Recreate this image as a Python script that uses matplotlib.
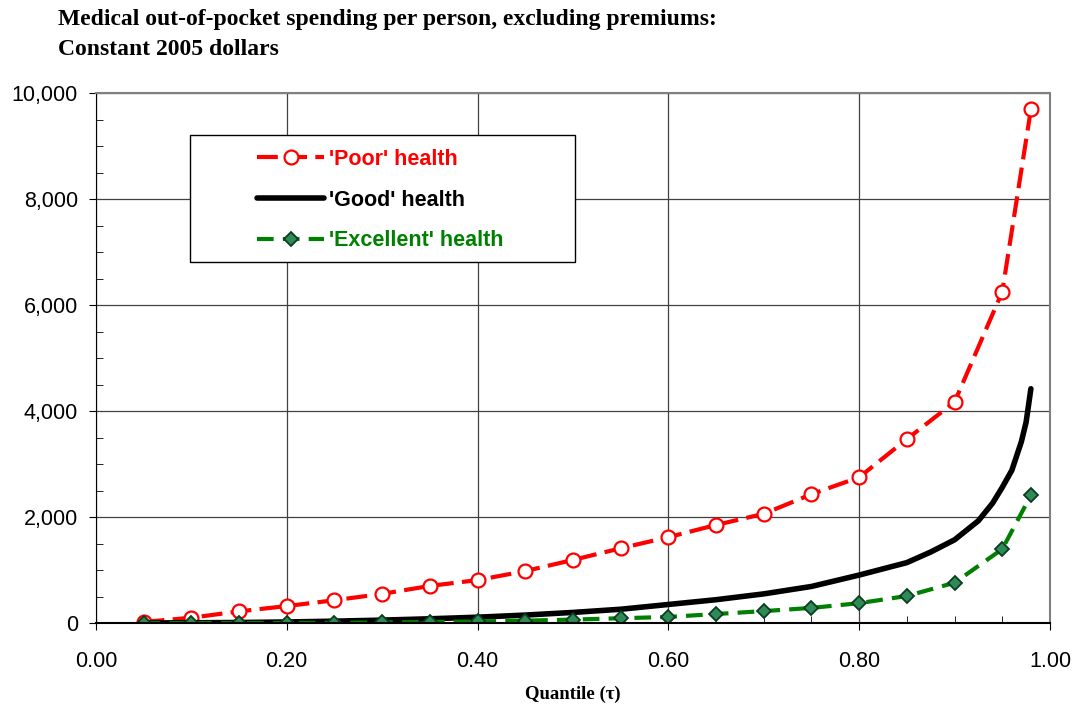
import matplotlib
matplotlib.use("Agg")
import matplotlib.pyplot as plt
from matplotlib.patches import Rectangle
from matplotlib.ticker import MultipleLocator, FuncFormatter

# data
quantile = [0.05, 0.10, 0.15, 0.20, 0.25, 0.30, 0.35, 0.40, 0.45, 0.50,
            0.55, 0.60, 0.65, 0.70, 0.75, 0.80, 0.85, 0.90, 0.95, 0.98]
poor = [20, 100, 220, 320, 430, 550, 700, 810, 980, 1190,
        1410, 1620, 1850, 2060, 2430, 2750, 3470, 4170, 6250, 9690]
excellent = [0, 0, 0, 0, 5, 10, 20, 30, 45, 65,
             90, 115, 170, 225, 285, 375, 510, 760, 1395, 2410]

# 'Good' has no markers (denser near the top end)
good_q = [0.05, 0.10, 0.15, 0.20, 0.25, 0.30, 0.35, 0.40, 0.45, 0.50,
          0.55, 0.60, 0.65, 0.70, 0.75, 0.80, 0.85, 0.875, 0.90, 0.925,
          0.94, 0.95, 0.96, 0.97, 0.975, 0.98]
good = [0, 5, 10, 20, 35, 55, 80, 110, 150, 200,
        260, 350, 440, 550, 690, 905, 1140, 1340, 1570, 1930,
        2265, 2560, 2880, 3420, 3790, 4420]

labels = ["'Poor' health", "'Good' health", "'Excellent' health"]

fig = plt.figure(figsize=(10.78, 7.10), dpi=100)
ax = fig.add_axes([0.089, 0.1225, 0.885, 0.7465])

ax.plot(quantile, poor, color="red", lw=3, dashes=(5, 2.0),
        marker="o", ms=10, mfc="white", mec="red", mew=1.6, label=labels[0])
ax.plot(good_q, good, color="black", lw=4, solid_capstyle="round",
        solid_joinstyle="round", label=labels[1])
ax.plot(quantile, excellent, color="#008000", lw=3, dashes=(4, 2.2),
        marker="D", ms=7.5, mfc="#2E8B57", mec="#0B3D1E", mew=1.3, label=labels[2])

ax.set_xlim(0, 1)
ax.set_ylim(0, 10000)
ax.xaxis.set_major_locator(MultipleLocator(0.2))
ax.xaxis.set_minor_locator(MultipleLocator(0.05))
ax.yaxis.set_major_locator(MultipleLocator(2000))
ax.yaxis.set_minor_locator(MultipleLocator(500))
ax.xaxis.set_major_formatter(FuncFormatter(lambda v, p: f"{v:.2f}"))
ax.yaxis.set_major_formatter(FuncFormatter(lambda v, p: f"{v:,.0f}"))
ax.tick_params(which="major", direction="out", length=5, labelsize=15.5)
ax.tick_params(axis="x", which="major", pad=15)
ax.tick_params(axis="y", which="major", pad=8)
ax.tick_params(which="minor", direction="in", length=5)
for lab in ax.get_xticklabels() + ax.get_yticklabels():
    lab.set_fontfamily("Liberation Sans")

ax.grid(True, which="major", color="#404040", lw=0.9)
ax.set_axisbelow(True)
ax.spines["left"].set_color("black")
ax.spines["bottom"].set_color("black")
ax.spines["bottom"].set_linewidth(1.5)
for side in ["top", "right"]:
    ax.spines[side].set_color("#808080")
    ax.spines[side].set_linewidth(1.5)

# legend box drawn separately so the entries can sit inside with a wide left margin
box = Rectangle((0.0985, 0.681), 0.4036, 0.2396, transform=ax.transAxes,
                facecolor="white", edgecolor="black", lw=1.0, zorder=4)
ax.add_patch(box)
leg = ax.legend(loc="center left", bbox_to_anchor=(0.169, 0.798),
                frameon=False, borderpad=0, borderaxespad=0,
                handlelength=3.1, handletextpad=0.25, labelspacing=0.92,
                labelcolor="linecolor",
                prop={"family": "Liberation Sans", "weight": "bold", "size": 15.5})
leg.set_zorder(5)

fig.text(0.054, 0.988, "Medical out-of-pocket spending per person, excluding premiums:\nConstant 2005 dollars",
         ha="left", va="top", fontfamily="Liberation Serif", fontweight="bold",
         fontsize=17, linespacing=1.6)
ax.set_xlabel("Quantile (\u03c4)", fontfamily="Liberation Serif", fontweight="bold",
              fontsize=13.5, labelpad=10)

fig.savefig("out.png", dpi=100)
